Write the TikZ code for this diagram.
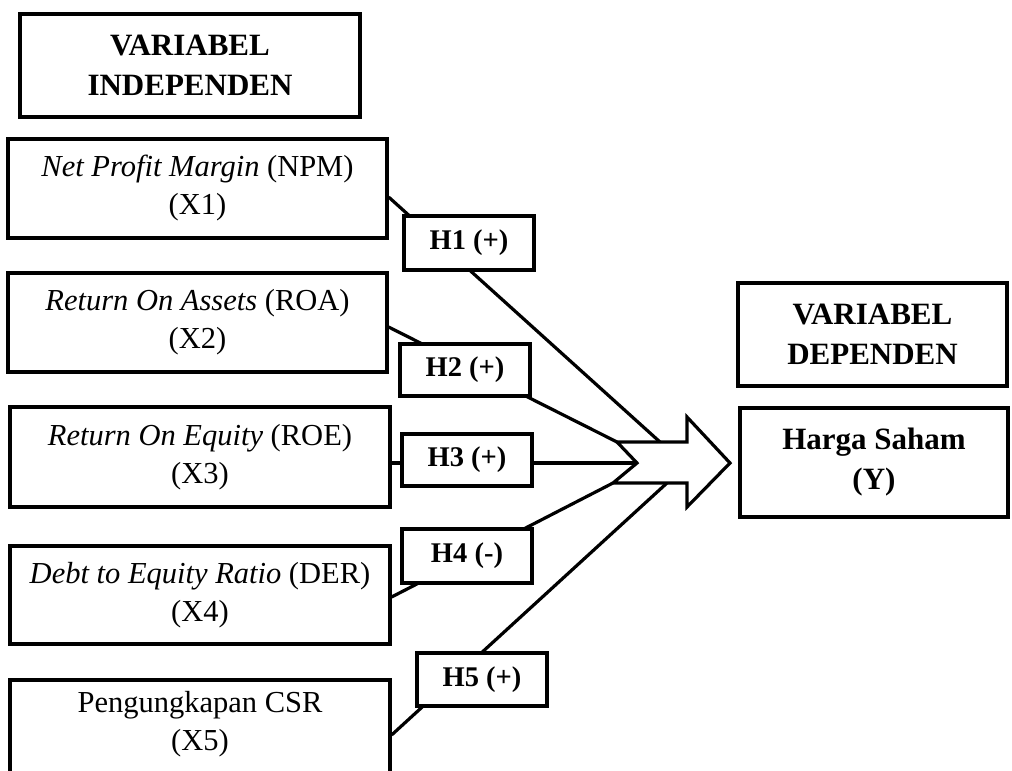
\documentclass[tikz,border=0pt]{standalone}
\usepackage{fontspec}
\setmainfont{Liberation Serif}
\newcommand\regfont{\fontsize{30.5}{38}\selectfont}
\newcommand\headfont{\fontsize{31}{40}\selectfont\bfseries}
\newcommand\hfont{\fontsize{28.5}{34}\selectfont\bfseries}
\begin{document}
\begin{tikzpicture}[x=1pt,y=-1pt,
  box/.style={draw, line width=3.2pt, inner sep=0pt, align=center, fill=white},
  varbox/.style={box, minimum width=379pt, minimum height=99pt, font=\regfont},
  hbox/.style={box, minimum width=130pt, minimum height=53pt, font=\hfont},
  conn/.style={line width=3.2pt}]
\useasboundingbox (0,0) rectangle (1012,771);
\clip (0,0) rectangle (1012,771);

% independent heading
\node[box, minimum width=340pt, minimum height=103pt, font=\headfont] (indep) at (190,65.5) {VARIABEL\\INDEPENDEN};

% variable boxes
\node[varbox] (npm) at (197.5,188.5) {\textit{Net Profit Margin} (NPM)\\(X1)};
\node[varbox] (roa) at (197.5,322.5) {\textit{Return On Assets} (ROA)\\(X2)};
\node[varbox, minimum width=380pt, minimum height=100pt] (roe) at (200,457) {\textit{Return On Equity} (ROE)\\(X3)};
\node[varbox, minimum width=380pt, minimum height=98pt] (der) at (200,595) {\textit{Debt to Equity Ratio} (DER)\\(X4)};
\node[box, minimum width=380pt, minimum height=110pt] (csr) at (200,735) {};
\node[font=\regfont, align=center, inner sep=0pt] (csrtext) at (200,724) {Pengungkapan CSR\\(X5)};

% dependent
\node[box, minimum width=269pt, minimum height=103pt, font=\headfont] (dep) at (872.5,334.5) {VARIABEL\\DEPENDEN};
\node[box, minimum width=268pt, minimum height=109pt, font=\headfont] (harga) at (874,462.5) {Harga Saham\\(Y)};

% arrow coordinates
\coordinate (atl) at (617,442);
\coordinate (ahb1) at (687,442);
\coordinate (aht) at (687,417);
\coordinate (atip) at (730,463);
\coordinate (ahb) at (687,507);
\coordinate (ahb2) at (687,483);
\coordinate (abl) at (613,483);
\coordinate (anotch) at (637,463);
\coordinate (e1) at (660,442);
\coordinate (e5) at (667,483);

% connectors
\draw[conn] ([yshift=-8.5pt]npm.east) -- (e1);
\draw[conn] ([yshift=-4.5pt]roa.east) -- (atl);
\draw[conn] ([yshift=-6pt]roe.east) -- (anotch);
\draw[conn] ([yshift=-2pt]der.east) -- (abl);
\draw[conn] (csr.east) -- (e5);

% hypothesis boxes
\node[hbox, minimum height=54pt] (h1) at (469,243) {H1 (+)};
\node[hbox, minimum height=52pt] (h2) at (465,370) {H2 (+)};
\node[hbox, minimum height=52pt] (h3) at (467,460) {H3 (+)};
\node[hbox, minimum height=54pt] (h4) at (467,556) {H4 (-)};
\node[hbox] (h5) at (482,679.5) {H5 (+)};

% block arrow
\draw[line width=3.2pt, fill=white, line join=miter] (atl) -- (ahb1) -- (aht) -- (atip) -- (ahb) -- (ahb2) -- (abl) -- (anotch) -- cycle;
\end{tikzpicture}
\end{document}
